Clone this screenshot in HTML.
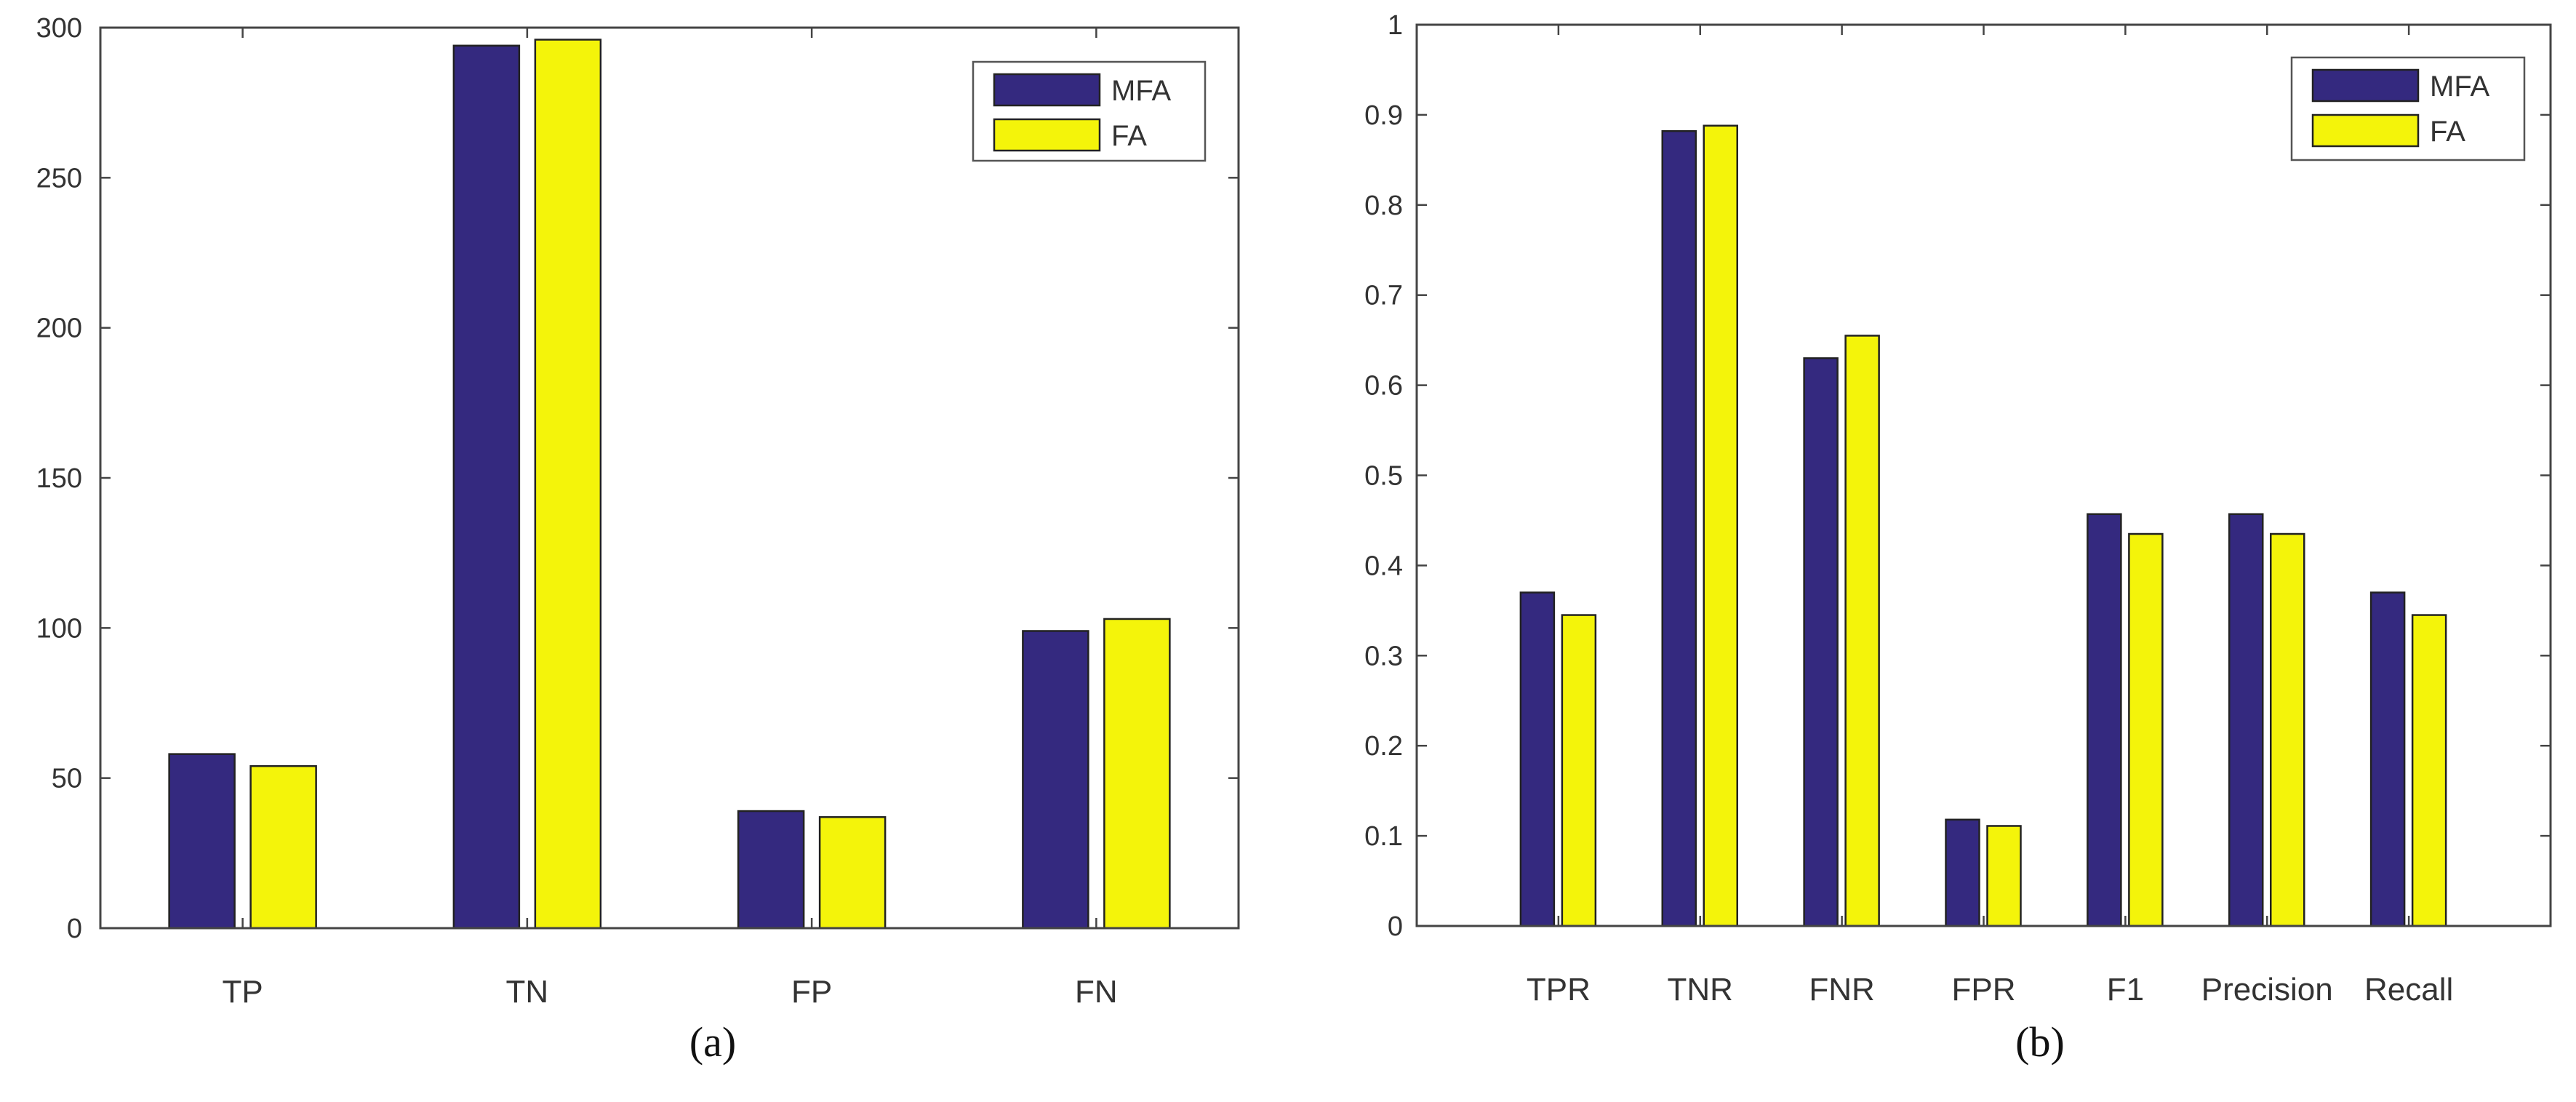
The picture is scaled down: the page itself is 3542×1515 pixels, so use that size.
<!DOCTYPE html>
<html><head><meta charset="utf-8"><style>
html,body{margin:0;padding:0;background:#fff;}
svg text{font-family:"Liberation Sans",sans-serif;fill:#333;}
</style></head><body>
<svg id="fig" width="3542" height="1510" xmlns="http://www.w3.org/2000/svg"></svg>
<script>
const catsA = ["TP","TN","FP","FN"];
const mfaA = [58,294,39,99];
const faA = [54,296,37,103];
const ticksA = [0,50,100,150,200,250,300];
const catsB = ["TPR","TNR","FNR","FPR","F1","Precision","Recall"];
const mfaB = [0.37,0.882,0.63,0.118,0.457,0.457,0.37];
const faB = [0.345,0.888,0.655,0.111,0.435,0.435,0.345];
const ticksB = [0,0.1,0.2,0.3,0.4,0.5,0.6,0.7,0.8,0.9,1];
const seriesNames = ["MFA","FA"];

const NS="http://www.w3.org/2000/svg";
const svg=document.getElementById('fig');
function mk(tag,attrs,parent){const e=document.createElementNS(NS,tag);for(const k in attrs)e.setAttribute(k,attrs[k]);(parent||svg).appendChild(e);return e;}
const NAVY="#34297f", YEL="#f4f40a";

function chart(o){
  const g=mk('g',{});
  
  
  const xs=v=>o.L+(v-o.xmin)/(o.xmax-o.xmin)*(o.R-o.L);
  const ys=v=>o.B-(v-o.ymin)/(o.ymax-o.ymin)*(o.B-o.T);
  o.ticks.forEach(t=>{
    const y=ys(t);
    const l=mk('line',{x1:o.L,x2:o.L+14,y1:y,y2:y,stroke:"#444","stroke-width":2.5},g);
    
    
    const r=mk('line',{x1:o.R,x2:o.R-14,y1:y,y2:y,stroke:"#444","stroke-width":2.5},g);
    
    
    const tx=mk('text',{x:o.labelX,y:y+13,"text-anchor":"end","font-size":38},g);
    tx.textContent=o.fmt(t);
    
    
  });
  o.cats.forEach((c,i)=>{
    const cx=xs(i+1);
    const tt=mk('line',{x1:cx,x2:cx,y1:o.B,y2:o.B-14,stroke:"#444","stroke-width":2.5},g);
    
    
    const tt2=mk('line',{x1:cx,x2:cx,y1:o.T,y2:o.T+14,stroke:"#444","stroke-width":2.5},g);
    
    
    [[o.mfa,NAVY,o.off1],[o.fa,YEL,o.off2]].forEach(([arr,col,off],s)=>{
      const y=ys(arr[i]);
      const b=mk('rect',{x:cx+off-o.bw/2,y:y,width:o.bw,height:o.B-y,fill:col,stroke:"#222","stroke-width":2.5},g);
      
      
    });
    const lt=mk('text',{x:cx,y:o.B+102,"text-anchor":"middle","font-size":44},g);
    lt.textContent=c;
    
    
  });
  const ax=mk('rect',{x:o.L,y:o.T,width:o.R-o.L,height:o.B-o.T,fill:"none",stroke:"#444","stroke-width":3},g);
  
  
  const lg=mk('g',{},g);
  
  
  mk('rect',{x:o.lg.x,y:o.lg.y,width:o.lg.w,height:o.lg.h,fill:"#fff",stroke:"#555","stroke-width":2.5},lg);
  [[NAVY,0],[YEL,1]].forEach(([col,k])=>{
    const sy=o.lg.y+17+k*62;
    const sw=mk('rect',{x:o.lg.x+29,y:sy,width:145,height:43,fill:col,stroke:"#222","stroke-width":2.5},lg);
    
    
    const t=mk('text',{x:o.lg.x+190,y:sy+36,"font-size":40},lg);
    t.textContent=seriesNames[k];
    
    
  });
  const cap=mk('text',{x:o.capX,y:1452,"text-anchor":"middle","font-size":58,style:"font-family:'Liberation Serif',serif;fill:#111"},g);
  cap.textContent=o.cap;
  
  
}
chart({name:'chart-a',L:138,R:1703,T:38,B:1276,xmin:0.5,xmax:4.5,ymin:0,ymax:300,
  ticks:ticksA,fmt:v=>String(v),labelX:113,cats:catsA,mfa:mfaA,fa:faA,bw:90,off1:-56,off2:56,
  lg:{x:1338,y:85,w:319,h:136},cap:"(a)",capX:980});
chart({name:'chart-b',L:1948,R:3507,T:34,B:1273,xmin:0,xmax:8,ymin:0,ymax:1,
  ticks:ticksB,fmt:v=>v===0?"0":v===1?"1":v.toFixed(1),labelX:1929,cats:catsB,mfa:mfaB,fa:faB,bw:46,off1:-29,off2:28,
  lg:{x:3151,y:79,w:320,h:141},cap:"(b)",capX:2805});
</script>
</body></html>
